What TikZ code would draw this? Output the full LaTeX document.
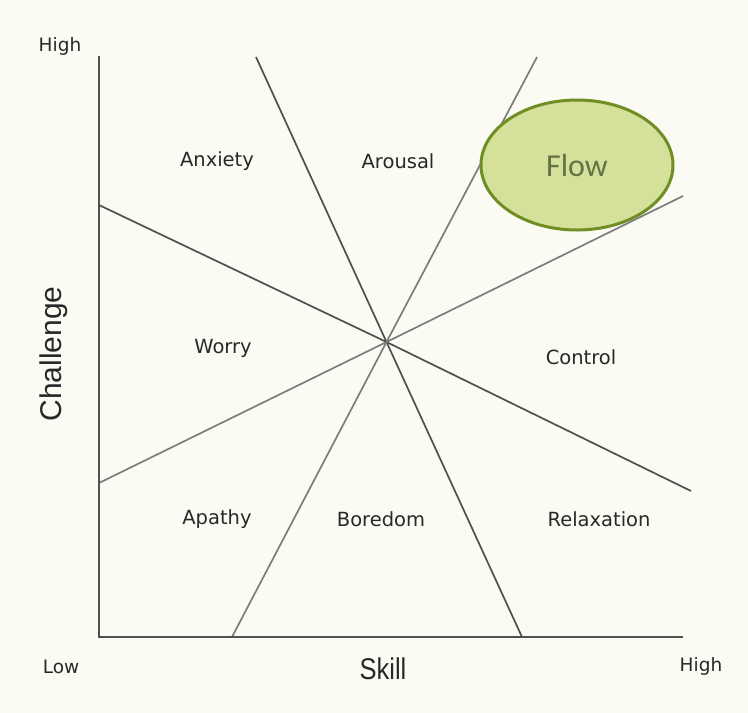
\documentclass[tikz,border=0pt]{standalone}
\usepackage{fontspec}
\setmainfont{DejaVu Sans}
\newfontfamily\axisfont{Liberation Sans}
\newfontfamily\flowfont{Carlito}
\usepackage{tikz}
\usetikzlibrary{shapes.geometric}
\usepackage{xcolor}
\definecolor{paper}{RGB}{251,251,244}
\definecolor{textgray}{RGB}{40,40,40}
\definecolor{flowfill}{RGB}{213,225,155}
\definecolor{flowedge}{RGB}{112,142,36}
\definecolor{flowtext}{RGB}{100,115,70}

\begin{document}
\begin{tikzpicture}[x=1pt,y=-1pt,
    region/.style={text=textgray,font=\fontsize{19.5}{22}\selectfont,inner sep=0pt},
    endlabel/.style={text=textgray,font=\fontsize{18.5}{22}\selectfont,inner sep=0pt},
    axisname/.style={text=textgray,font=\axisfont\fontsize{30}{34}\selectfont,inner sep=0pt},
    axisline/.style={draw={rgb,255:red,80;green,80;blue,80},line width=2.4pt},
    darkline/.style={draw={rgb,255:red,80;green,80;blue,80},line width=1.7pt},
    lightline/.style={draw={rgb,255:red,125;green,125;blue,125},line width=1.7pt},
    flow ellipse/.style={ellipse,draw=flowedge,fill=flowfill,line width=3pt,
      minimum width=192,minimum height=130,inner sep=0pt,text=flowtext,
      font=\flowfont\fontsize{32}{36}\selectfont}]
  \fill[paper] (0,0) rectangle (748,713);
  \useasboundingbox (0,0) rectangle (748,713);
  % axes and the four lines through the centre
  \coordinate (origin) at (99,637);
  \coordinate (top end) at (99,56);
  \coordinate (right end) at (683,637);
  \coordinate (centre) at (386.5,342);
  \coordinate (a top) at (256,57);
  \coordinate (a bottom) at (522,637);
  \coordinate (b top) at (537,57);
  \coordinate (b bottom) at (232,637);
  \coordinate (c left) at (99,205);
  \coordinate (c right) at (691,491);
  \coordinate (d left) at (99,483);
  \coordinate (d right) at (683,196);
  \draw[darkline] (a top) -- (centre) -- (a bottom);
  \draw[lightline] (b top) -- (centre) -- (b bottom);
  \draw[darkline] (c left) -- (centre) -- (c right);
  \draw[lightline] (d left) -- (centre) -- (d right);
  \draw[axisline] (top end) -- (origin) -- (right end);
  % regions
  \node[region] (anxiety) at (217,161) {Anxiety};
  \node[region] (arousal) at (398,161) {Arousal};
  \node[flow ellipse] (flow) at (577,165) {Flow};
  \node[region] (worry) at (223,348) {Worry};
  \node[region] (control) at (581,357) {Control};
  \node[region] (apathy) at (217,519) {Apathy};
  \node[region] (boredom) at (381,519) {Boredom};
  \node[region] (relaxation) at (599,519) {Relaxation};
  % axis labels
  \node[endlabel] (high challenge) at (60,46) {High};
  \node[endlabel] (low) at (61,667) {Low};
  \node[endlabel] (high skill) at (701,666) {High};
  \node[axisname] (skill) at (383,669) {\scalebox{0.85}[1]{Skill}};
  \node[axisname,rotate=90] (challenge) at (54,354) {Challenge};
\end{tikzpicture}
\end{document}
